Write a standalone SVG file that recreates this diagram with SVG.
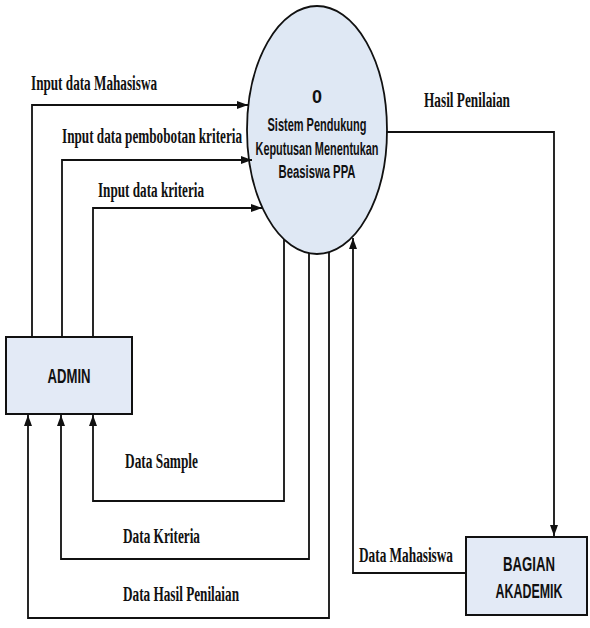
<svg xmlns="http://www.w3.org/2000/svg" width="590" height="628" viewBox="0 0 590 628">
  <style>
    .bg { fill: #ffffff; }
    .proc { fill: #dfe8f4; stroke: #111111; stroke-width: 1.8; }
    .ent { fill: #e3eaf6; stroke: #111111; stroke-width: 2; }
    .flow { fill: none; stroke: #111111; stroke-width: 1.8; stroke-linejoin: miter; }
    .nodeTxt { font-family: "Liberation Sans", Arial, sans-serif; font-weight: bold; fill: #111111; text-anchor: middle; }
    .lbl { font-family: "Liberation Serif", "Times New Roman", serif; font-weight: bold; font-size: 20px; fill: #111111; }
  </style>
  <defs>
    <marker id="arrow" viewBox="0 0 11 8" refX="11" refY="4" markerWidth="11" markerHeight="8" markerUnits="userSpaceOnUse" orient="auto">
      <path d="M0,0 L11,4 L0,8 z" fill="#111111"/>
    </marker>
  </defs>
  <rect class="bg" x="0" y="0" width="590" height="628"/>

  <!-- Process 0 -->
  <g id="process-0">
    <ellipse class="proc" cx="317" cy="130" rx="70" ry="124"/>
    <text class="nodeTxt" x="317" y="103" font-size="18">0</text>
    <text class="nodeTxt" x="317" y="131" font-size="17.5" textLength="99" lengthAdjust="spacingAndGlyphs">Sistem Pendukung</text>
    <text class="nodeTxt" x="317" y="155" font-size="17.5" textLength="123" lengthAdjust="spacingAndGlyphs">Keputusan Menentukan</text>
    <text class="nodeTxt" x="317" y="178" font-size="17.5" textLength="77" lengthAdjust="spacingAndGlyphs">Beasiswa PPA</text>
  </g>

  <!-- External entity: ADMIN -->
  <g id="admin">
    <rect class="ent" x="6" y="337" width="126" height="77"/>
    <text class="nodeTxt" x="69" y="383" font-size="21" textLength="43" lengthAdjust="spacingAndGlyphs">ADMIN</text>
  </g>

  <!-- External entity: BAGIAN AKADEMIK -->
  <g id="bagian-akademik">
    <rect class="ent" x="466" y="537" width="121" height="78"/>
    <text class="nodeTxt" x="529" y="571" font-size="20.5" textLength="52" lengthAdjust="spacingAndGlyphs">BAGIAN</text>
    <text class="nodeTxt" x="529" y="598" font-size="20.5" textLength="67" lengthAdjust="spacingAndGlyphs">AKADEMIK</text>
  </g>

  <!-- Data flows -->
  <g id="connectors">
    <path class="flow" d="M32,337 V105 H248" marker-end="url(#arrow)"/>
    <path class="flow" d="M62,337 V160 H252" marker-end="url(#arrow)"/>
    <path class="flow" d="M93,337 V208 H262" marker-end="url(#arrow)"/>
    <path class="flow" d="M284,239 V501 H93 V415" marker-end="url(#arrow)"/>
    <path class="flow" d="M309,253 V559 H61 V415" marker-end="url(#arrow)"/>
    <path class="flow" d="M329,252 V618 H28 V415" marker-end="url(#arrow)"/>
    <path class="flow" d="M466,573 H353 V238" marker-end="url(#arrow)"/>
    <path class="flow" d="M386,132 H554 V536" marker-end="url(#arrow)"/>

    <text class="lbl" x="31" y="90" textLength="126" lengthAdjust="spacingAndGlyphs">Input data Mahasiswa</text>
    <text class="lbl" x="62" y="143" textLength="180" lengthAdjust="spacingAndGlyphs">Input data pembobotan kriteria</text>
    <text class="lbl" x="98" y="197" textLength="106" lengthAdjust="spacingAndGlyphs">Input data kriteria</text>
    <text class="lbl" x="424" y="107" textLength="86" lengthAdjust="spacingAndGlyphs">Hasil Penilaian</text>
    <text class="lbl" x="125" y="468" textLength="73" lengthAdjust="spacingAndGlyphs">Data Sample</text>
    <text class="lbl" x="123" y="543" textLength="77" lengthAdjust="spacingAndGlyphs">Data Kriteria</text>
    <text class="lbl" x="123" y="601" textLength="116" lengthAdjust="spacingAndGlyphs">Data Hasil Penilaian</text>
    <text class="lbl" x="359" y="562" textLength="94" lengthAdjust="spacingAndGlyphs">Data Mahasiswa</text>
  </g>
</svg>
